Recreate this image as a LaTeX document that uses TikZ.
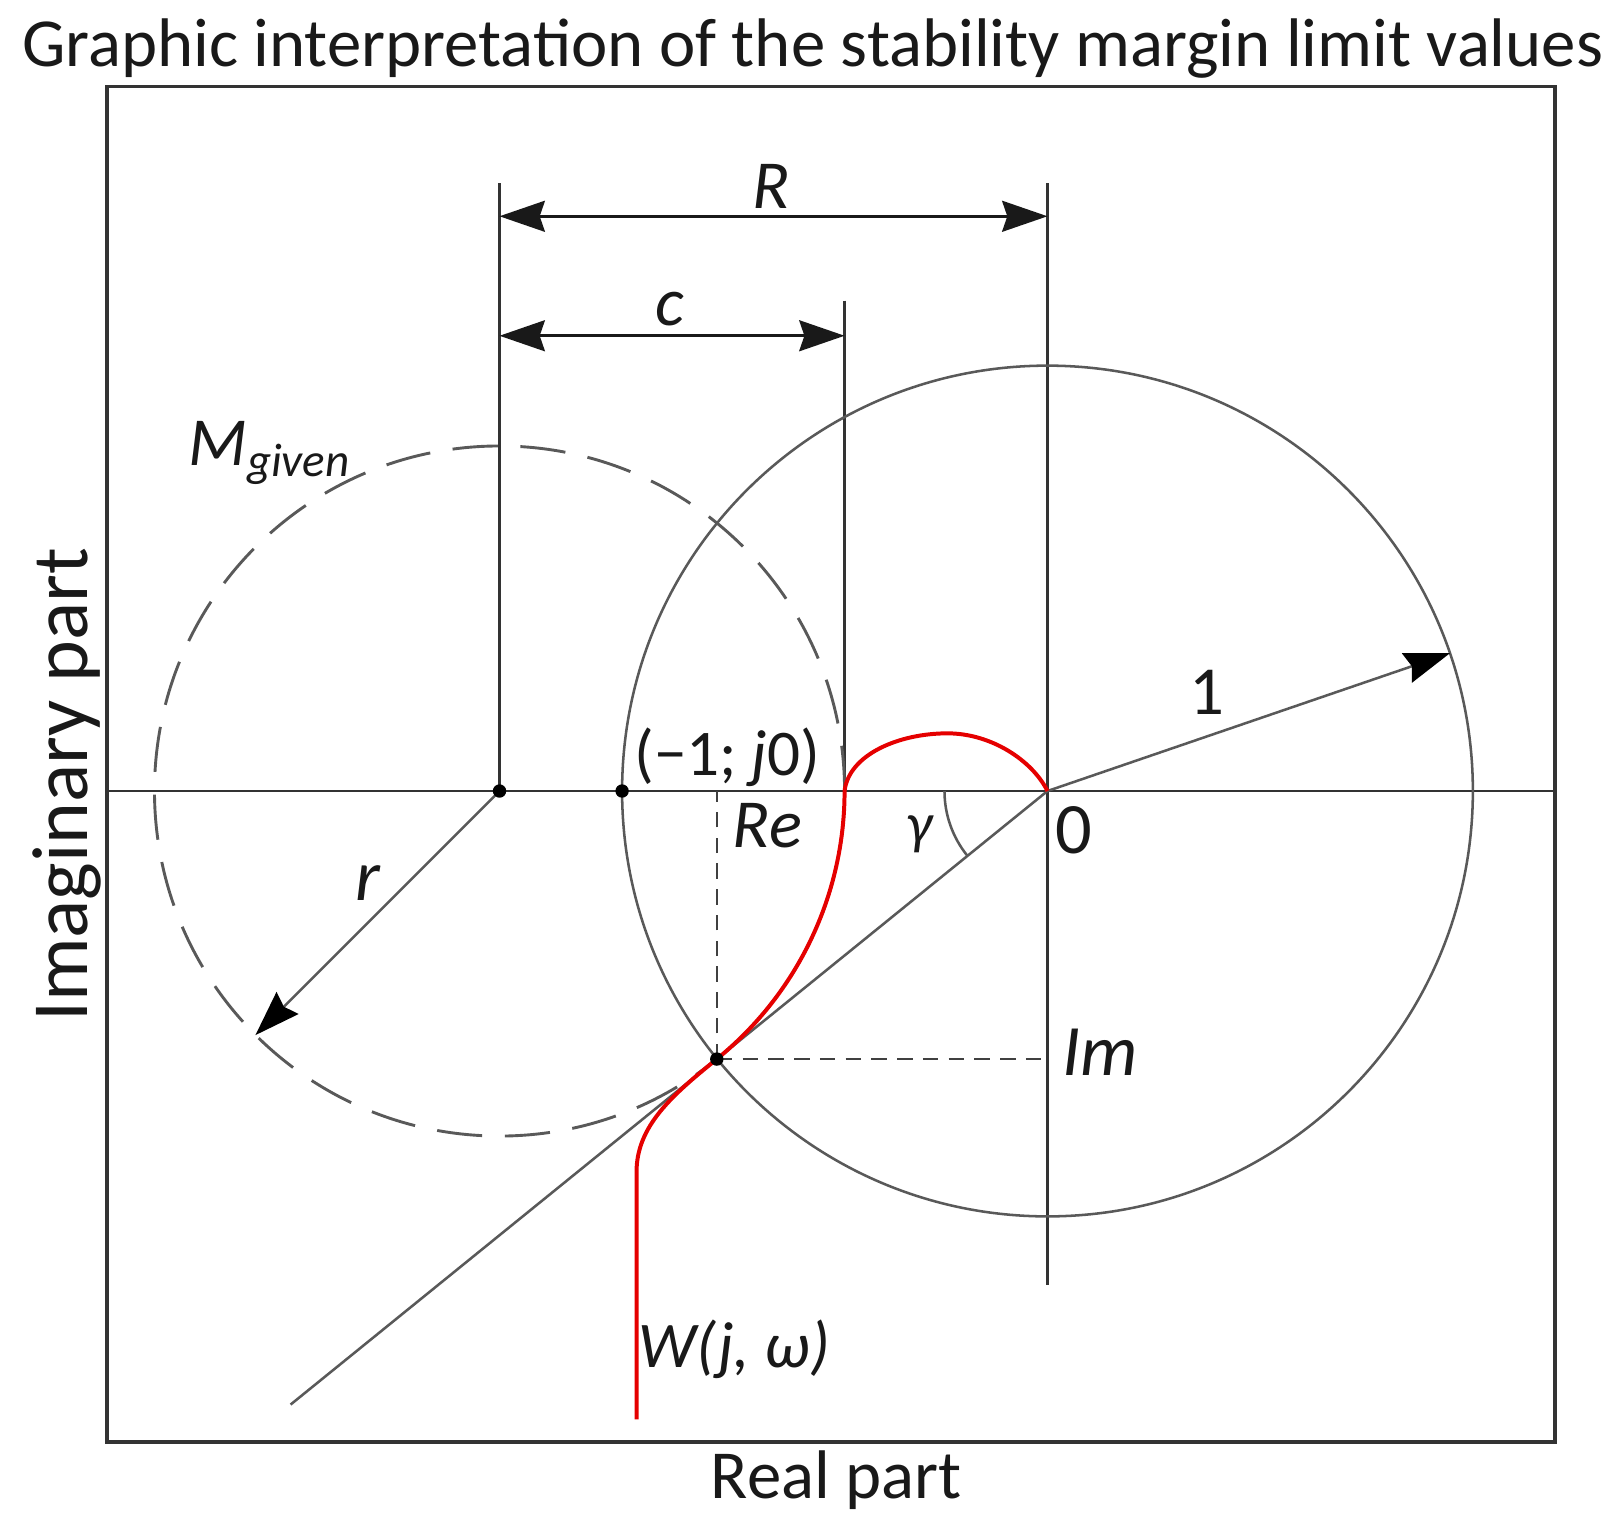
\documentclass[tikz,border=0pt]{standalone}
\usepackage{fontspec}
\setmainfont{Carlito}
\usetikzlibrary{arrows.meta}

\begin{document}
\begin{tikzpicture}[scale=1,
    every node/.style={text=black!90},
    axisline/.style={draw=black!80, line width=0.8pt},
    circline/.style={draw=black!65, line width=0.7pt},
    helpline/.style={draw=black!75, line width=0.7pt, dash pattern=on 1.5mm off 1mm},
    mline/.style={draw=black!65, line width=0.8pt, dash pattern=on 4.4mm off 2.2mm},
    tip/.style={-{Stealth[length=4.4mm,width=3mm,inset=0.5mm,black]}},
    dim/.style={{Stealth[length=4.4mm,width=3mm,inset=0.5mm]}-{Stealth[length=4.4mm,width=3mm,inset=0.5mm]}, line width=0.8pt, draw=black!90},
    dot/.style={fill=black},
    lbl/.style={font=\fontsize{19}{22}\selectfont\itshape}]
\useasboundingbox (-10.17,-7.16) rectangle (5.51,7.68);

    \coordinate (O) at (0,0);
    \coordinate (C) at (-5.32,0);
    \coordinate (m1) at (-4.13,0);
    \coordinate (W) at (219.03:4.133);
    \coordinate (cfoot) at (-1.97,0);
    \coordinate (Rtop) at (-5.32,5.90);
    \coordinate (Imtop) at (0,5.90);
    \coordinate (Imbot) at (0,-4.80);
    \coordinate (ctop) at (-1.97,4.76);
    \coordinate (Rl) at (-5.32,5.58);
    \coordinate (Rr) at (0,5.58);
    \coordinate (cl) at (-5.32,4.42);
    \coordinate (cr) at (-1.97,4.42);
    \coordinate (u1) at (18.9:4.13);
    \coordinate (rend) at (-7.69,-2.37);
    \coordinate (rayend) at (219.03:9.46);
    \coordinate (fl) at (-9.13,0);
    \coordinate (fr) at (4.93,0);

    % frame and axes
    \draw[draw=black!80, line width=1.1pt] (-9.13,-6.32) rectangle (4.93,6.84);
    \draw[axisline] (fl) -- (fr);
    \draw[axisline] (Imtop) -- (Imbot);
    \draw[axisline] (Rtop) -- (C);
    \draw[axisline] (ctop) -- (cfoot);

    % circles
    \draw[circline] (O) circle (4.13);
    \draw[mline] (C) circle (3.35);

    % lines through W
    \draw[circline] (O) -- (rayend);
    \draw[helpline] (W) -- (W |- O);
    \draw[helpline] (W) -- (O |- W);
    \draw[circline] (180:1) arc (180:219.03:1);

    % draw the arrows
    \draw[dim] (Rl) -- (Rr);
    \draw[dim] (cl) -- (cr);
    \draw[tip, circline] (O) -- (u1);
    \draw[tip, circline] (C) -- (rend);

    % the curve W(j,w)
    \draw[red!90!black, line width=1.1pt] (O) .. controls (-0.15,0.3) and (-0.55,0.56) .. (-0.97,0.56)
        .. controls (-1.45,0.56) and (-1.93,0.35) .. (cfoot)
        arc (0:-50.97:3.35) .. controls (-3.64,-2.95) and (-3.99,-3.25) .. (-3.99,-3.7) -- (-3.99,-6.10);

    \fill[dot] (C) circle (0.065);
    \fill[dot] (m1) circle (0.065);
    \fill[dot] (W) circle (0.065);

    \node (title) at (-2.28,7.21) {\fontsize{19}{22}\selectfont Graphic interpretation of the stability margin limit values};
    \node[rotate=90] (ylab) at (-9.52,0.06) {\fontsize{22}{26}\selectfont Imaginary part};
    \node (xlab) at (-2.05,-6.69) {\fontsize{19}{22}\selectfont Real part};
    \node[lbl] (tR) at (-2.68,5.87) {R};
    \node[lbl] (tc) at (-3.67,4.68) {c};
    \node[lbl, font=\fontsize{19}{22}\selectfont] (t1) at (1.55,0.96) {1};
    \node[lbl, font=\fontsize{18}{22}\selectfont] (tm1) at (-3.11,0.33) {(−1; \textit{j}0)};
    \node[lbl] (tRe) at (-2.72,-0.34) {Re};
    \node[lbl, font=\fontsize{16}{20}\selectfont\itshape] (tg) at (-1.24,-0.42) {γ};
    \node[font=\fontsize{20}{24}\selectfont] (tO) at (0.26,-0.38) {0};
    \node[lbl, font=\fontsize{20}{24}\selectfont\itshape] (tIm) at (0.51,-2.54) {Im};
    \node[lbl, font=\fontsize{18}{22}\selectfont\itshape] (tW) at (-3.04,-5.42) {W(j, ω)};
    \node[lbl, font=\fontsize{20}{24}\selectfont\itshape] (tr) at (-6.60,-0.89) {r};
    \node[lbl, font=\fontsize{19}{22}\selectfont\itshape] (tM) at (-7.55,3.28) {M\textsubscript{\fontsize{13}{15}\selectfont given}};

\end{tikzpicture}
\end{document}
